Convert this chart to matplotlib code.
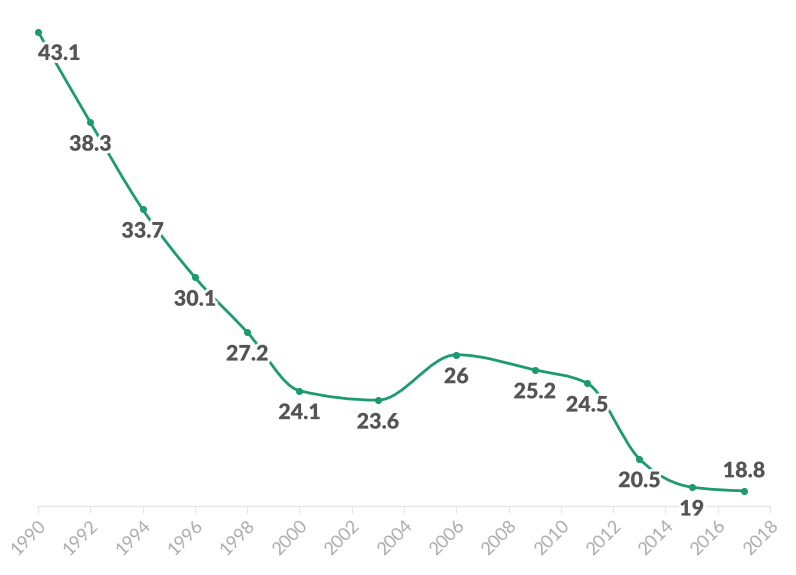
import numpy as np
import matplotlib
matplotlib.use('Agg')
from matplotlib import pyplot as plt
from matplotlib.path import Path
from matplotlib.patches import PathPatch
import matplotlib.patheffects as pe

years = [1990, 1992, 1994, 1996, 1998, 2000, 2003, 2006, 2009, 2011, 2013, 2015, 2017]
values = [43.1, 38.3, 33.7, 30.1, 27.2, 24.1, 23.6, 26, 25.2, 24.5, 20.5, 19, 18.8]
labels = ['43.1', '38.3', '33.7', '30.1', '27.2', '24.1', '23.6', '26', '25.2', '24.5', '20.5', '19', '18.8']
tick_years = list(range(1990, 2019, 2))

green = '#1e9a72'


def monotone_path(xs, ys):
    # monotone cubic (like d3 curveMonotoneX) as bezier segments
    xs = np.asarray(xs, float)
    ys = np.asarray(ys, float)
    n = len(xs)
    h = np.diff(xs)
    s = np.diff(ys) / h
    t = np.zeros(n)
    for i in range(1, n - 1):
        p = (s[i - 1] * h[i] + s[i] * h[i - 1]) / (h[i - 1] + h[i])
        t[i] = (np.sign(s[i - 1]) + np.sign(s[i])) * min(abs(s[i - 1]), abs(s[i]), 0.5 * abs(p))
    t[0] = (3 * s[0] - t[1]) / 2
    t[-1] = (3 * s[-1] - t[-2]) / 2
    verts = [(xs[0], ys[0])]
    codes = [Path.MOVETO]
    for i in range(n - 1):
        dx = h[i] / 3
        verts += [(xs[i] + dx, ys[i] + dx * t[i]),
                  (xs[i + 1] - dx, ys[i + 1] - dx * t[i + 1]),
                  (xs[i + 1], ys[i + 1])]
        codes += [Path.CURVE4] * 3
    return Path(verts, codes)


fig = plt.figure(figsize=(7.96, 5.75), dpi=100)
ax = fig.add_axes([38 / 796, 69 / 575, 732 / 796, (506 - 14.5) / 575])

ax.add_patch(PathPatch(monotone_path(years, values), facecolor='none',
                       edgecolor=green, lw=2.0, capstyle='round', zorder=2,
                       clip_on=False))
ax.scatter(years, values, s=26, color=green, zorder=3, linewidths=0, clip_on=False)

halo = [pe.withStroke(linewidth=4, foreground='white')]
for i, (x, y, lab) in enumerate(zip(years, values, labels)):
    ha = 'center'
    dx, dy = 0, -22
    if i == 0:
        ha = 'left'
    if i == len(years) - 1:
        dy = 20
    ax.annotate(lab, (x, y), xytext=(dx, dy), textcoords='offset pixels',
                ha=ha, va='center', fontsize=15.5, fontweight='heavy',
                family=['Lato', 'DejaVu Sans'], color='#555555',
                path_effects=halo, zorder=4)

ax.set_xlim(1990, 2018)
ax.set_ylim(18, 44)
ax.set_xticks(tick_years)
ax.set_xticklabels([str(y) for y in tick_years], rotation=45, ha='right',
                   va='top', rotation_mode='anchor', fontsize=13,
                   color='#aaaaaa', family=['Lato', 'DejaVu Sans'])
ax.tick_params(axis='x', length=5, width=0.8, color='#e6e6e6', pad=3)
ax.set_yticks([])
for side in ['top', 'right', 'left']:
    ax.spines[side].set_visible(False)
ax.spines['bottom'].set_color('#e6e6e6')
ax.spines['bottom'].set_linewidth(1)

fig.savefig('out.png', dpi=100)
